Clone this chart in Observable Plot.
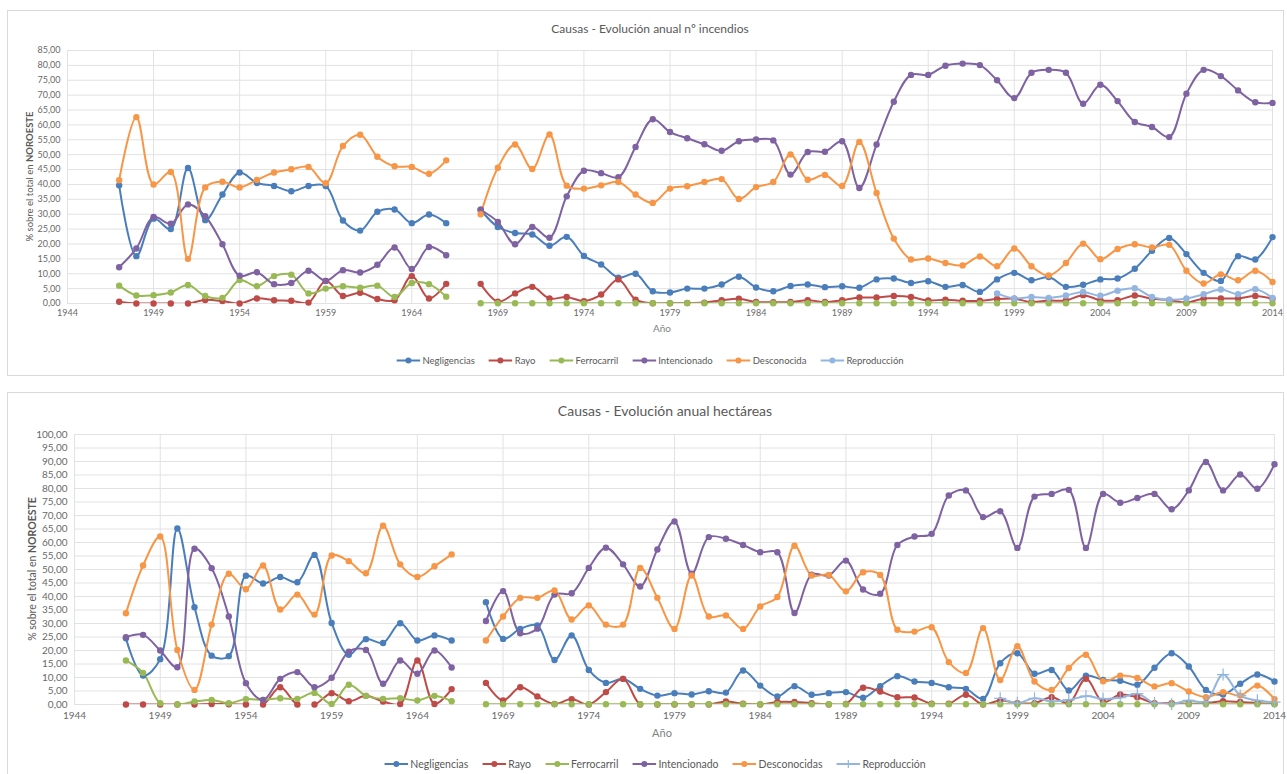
<!DOCTYPE html>
<html><head><meta charset="utf-8">
<script src="https://cdn.jsdelivr.net/npm/d3@7"></script>
<script src="https://cdn.jsdelivr.net/npm/@observablehq/plot@0.6"></script>
<style>
body{margin:0;background:#fff;font-family:Lato,"Open Sans",sans-serif;}
#page{position:relative;width:1287px;height:774px;overflow:hidden;background:#fff;}
.box{position:absolute;left:7px;width:1277px;border:1px solid #d9d9d9;box-sizing:border-box;}
.title{position:absolute;color:#595959;white-space:nowrap;transform:translate(-50%,-50%);}
.legend{position:absolute;display:flex;gap:14px;transform:translate(-50%,-50%);color:#595959;white-space:nowrap;align-items:center;}
.legend .item{display:flex;align-items:center;gap:2px;}
.chart{position:absolute;left:0;}
</style></head><body><div id="page"></div>
<script>
// ---------- DATA ----------
const yearsMain = d3.range(1947, 2015);          // 1967 missing (null)
const yearsRepro = d3.range(1998, 2015);
const namesTop = ["Negligencias","Rayo","Ferrocarril","Intencionado","Desconocida","Reproducción"];
const namesBot = ["Negligencias","Rayo","Ferrocarril","Intencionado","Desconocidas","Reproducción"];
const colors = ["#4A7EBB","#BE4B48","#98B954","#7E62A1","#F79646","#93B6E0"];
const yTicksTop = d3.range(0, 86, 5);
const yTicksBot = d3.range(0, 101, 5);
const xTicks = [1944,1949,1954,1959,1964,1969,1974,1979,1984,1989,1994,1999,2004,2009,2014];

// Top: nº incendios
const topNeg = [39.7,15.9,28.5,25,45.5,28,36.6,44,40.5,39.5,37.7,39.5,39.5,27.9,24.5,30.8,31.6,27,29.9,27,
  null,
  31.5,25.7,23.7,23.2,19.4,22.4,16,13.1,8.7,10,4.1,3.7,
  5,5,6.4,9,5.4,4.1,5.9,6.4,5.5,5.8,
  5.3,8.1,8.4,6.9,7.5,5.6,6.2,3.9,8.1,10.3,
  7.8,8.9,5.6,6.3,8.1,8.4,11.7,17.7,22,16.6,
  10.3,7.6,15.9,14.8,22.3];
const topRayo = [0.6,0,0,0,0,1.2,0.8,0,1.7,1.1,0.9,0.3,7.6,2.5,3.6,1.5,1.1,9.2,1.7,6.6,
  null,
  6.6,0.6,3.4,5.6,1.7,2.2,0.8,3,8.1,1.3,0.1,0.1,
  0.2,0.3,1.1,1.6,0.5,0.4,0.5,1.1,0.5,1.1,
  2,2,2.5,2.2,1,1.3,0.9,0.9,1.5,1.6,
  0.5,1,1,2.8,1.1,1.1,2.7,1.6,1.2,0.3,
  1.7,1.7,1.7,2.5,1.6];
const topFerro = [6,2.7,2.8,3.7,6.2,2.5,1.9,7.9,5.8,9.2,9.7,3.4,5,5.8,5.3,6,2.2,6.9,6.5,2.3,
  null,
  0.1,0.1,0.1,0.1,0.1,0.1,0.1,0.1,0.1,0.1,0.1,0.1,
  0.1,0.1,0.1,0.1,0.1,0.1,0.1,0.1,0.1,0.1,
  0.1,0.1,0.1,0.1,0.1,0.1,0.1,0.1,0.1,0.1,
  0.1,0.1,0.1,0.1,0.1,0.1,0.1,0.1,0.1,0.1,
  0.1,0.1,0.1,0.1,0.1];
const topInt = [12.2,18.5,29.1,26.8,33.3,29.3,19.9,9.3,10.5,6.5,6.9,11,7.6,11.2,10.4,13,18.8,11.6,19,16.2,
  null,
  31.5,27.4,19.9,25.7,22.1,36,44.6,43.8,42.4,52.6,61.9,57.6,
  55.5,53.5,51.3,54.5,55.1,54.8,43.3,50.9,51,54.5,
  38.8,53.4,67.8,76.8,76.8,79.9,80.6,80.1,75,69,
  77.5,78.5,77.5,67.1,73.5,68,61,59.3,55.9,70.5,
  78.5,76.4,71.6,67.6,67.4];
const topDesc = [41.4,62.6,40,44.2,15,39,40.9,39,41.5,44,45.1,45.9,40.4,52.9,56.7,49.3,46.1,45.9,43.6,48.1,
  null,
  30,45.6,53.4,45.2,56.8,39.6,38.6,39.7,40.8,36.6,33.8,38.6,
  39.4,40.8,41.8,35.1,39.1,40.8,50.1,41.6,43.2,39.5,
  54.3,37.1,21.8,14.8,15.1,13.6,12.8,15.8,12.5,18.5,
  12.5,9.4,13.6,20.1,14.9,18.3,19.9,18.8,19.7,11,
  6.7,9.8,7.8,11,7.2];
const topRepro = [3.4,1.7,2.2,1.9,2.7,3.9,2.6,4.3,5.1,2.2,1.3,1.7,3.1,4.7,3.1,4.8,1.9];

// Bottom: hectáreas
const botNeg = [24.5,10.7,16.8,65.2,36,18.1,17.9,47.7,44.8,47.2,45.3,55.4,30.2,18.4,24.2,22.8,30.1,23.7,25.6,23.7,
  null,
  37.9,24.3,28,29.3,16.5,25.6,12.8,8,9.5,5.8,3.3,4.2,
  3.7,4.9,4.4,12.6,7,3,6.8,3.6,4.2,4.6,
  2.5,6.8,10.5,8.5,8,6.4,5.8,2.1,15.3,19,
  11.4,12.8,5.2,10.7,9.1,8.8,7.3,13.6,19,14.1,
  5.4,3.7,7.7,11.1,8.5];
const botRayo = [0,0,0,0,0,0.2,0.1,0,0,6.4,0,0,4.2,1.2,3.2,1.1,0.2,16.3,0.2,5.7,
  null,
  8,1.5,6.4,3,0.2,2,0,4.6,9.5,0,0,0,
  0,0,1.1,0.3,0,0.9,0.9,0.5,0,0.2,
  6.2,4.8,2.7,2.6,0.3,0.3,3.6,0,1.5,0.5,
  0.5,2.7,0.5,9.5,0.9,3.7,2.7,0.5,0.5,0.3,
  0.5,1.2,0.9,0.5,0.3];
const botFerro = [16.3,11.7,0.5,0,1.1,1.7,0.5,2,1.7,2.3,2.1,4.3,0.2,7.3,3.2,2.1,2.3,1.5,3.2,1.2,
  null,
  0.1,0.1,0.1,0.1,0.1,0.1,0.1,0.1,0.1,0.1,0.1,0.1,
  0.1,0.1,0.1,0.1,0.1,0.1,0.1,0.1,0.1,0.1,
  0.1,0.1,0.1,0.1,0.1,0.1,0.1,0.1,0.1,0.1,
  0.1,0.1,0.1,0.1,0.1,0.1,0.1,0.1,0.1,0.1,
  0.1,0.1,0.1,0.1,0.1];
const botInt = [24.9,25.8,20,13.8,57.7,50.5,32.6,7.9,1.7,9.5,12,6.4,9.9,19.6,20.2,7.7,16.3,11.4,20,13.7,
  null,
  30.9,42,26.4,28.1,40.7,41.2,50.6,58.1,51.9,43.7,57.4,67.8,
  48.4,62,61.4,59.1,56.4,56.4,33.9,48.1,47.8,53.3,
  42.6,41,59.1,62.2,63.2,77.4,79.3,69.4,71.6,58,
  77,78,79.5,58,78,74.7,76.5,78,72.3,79.3,
  89.8,79.3,85.2,79.9,89];
const botDesc = [33.8,51.5,62.2,20.2,5.4,29.6,48.4,42.7,51.5,35.2,40.7,33.3,55.2,53.1,48.6,66.2,51.9,47.2,51.2,55.6,
  null,
  23.7,32.6,39.5,39.5,42.2,31.5,36.7,29.6,29.6,50.6,39.5,28,
  47.8,32.6,33,28,36.3,39.8,58.8,47.8,48,41.9,
  49,48,27.7,27,28.6,15.7,11.7,28.3,9.1,21.6,
  8.5,5.4,13.5,18.4,8.6,10.7,9.8,6.7,7.9,4.8,
  2.7,4.6,3.3,7,2];
const botRepro = [2.3,0.6,2.3,1.2,1.7,3.1,2.1,2.5,4,0.5,0.2,1.5,1.1,11.1,3.3,1.5,0.9];

// ---------- BUILD ----------
function rows(names, valuesList) {
  const out = [];
  names.forEach((n, k) => {
    const vals = valuesList[k];
    const yrs = vals.length === yearsRepro.length ? yearsRepro : yearsMain;
    yrs.forEach((yr, i) => out.push({year: yr, value: vals[i] == null ? NaN : vals[i], series: n}));
  });
  return out;
}
const fmt = d => d.toFixed(2).replace(".", ",");

function chart(o) {
  const data = rows(o.names, o.values);
  const pts = data.filter(d => !isNaN(d.value));
  const plusName = o.plusName;
  const svg = Plot.plot({
    width: 1287, height: o.height,
    marginTop: o.mt, marginBottom: o.mb, marginLeft: o.ml, marginRight: o.mr,
    style: {fontFamily: "Lato, 'Open Sans', sans-serif", fontSize: o.fs + "px", color: "#6a6a6a", background: "transparent"},
    x: {domain: [1944, 2014], ticks: xTicks, tickFormat: d => String(d), tickSize: 0, tickPadding: o.xpad, label: null},
    y: {domain: [0, o.yMax], ticks: o.yTicks, tickFormat: fmt, tickSize: 0, tickPadding: 7, label: null},
    color: {domain: o.names, range: colors},
    marks: [
      Plot.ruleY(o.yTicks, {stroke: "#e2e2e2", strokeWidth: 1}),
      Plot.ruleX(xTicks, {stroke: "#e2e2e2", strokeWidth: 1}),
      Plot.line(data, {x: "year", y: "value", z: "series", stroke: "series", strokeWidth: 2, curve: "catmull-rom", clip: true}),
      Plot.dot(pts.filter(d => d.series !== plusName), {x: "year", y: "value", fill: "series", r: 3.2}),
      Plot.dot(pts.filter(d => d.series === plusName), {x: "year", y: "value", stroke: "series", symbol: "plus", r: 4, strokeWidth: 1.2})
    ]
  });
  const s = d3.select(svg);
  const cy = (o.mt + (o.height - o.mb)) / 2;
  const t = s.append("text").attr("transform", `translate(${o.ylx},${cy}) rotate(-90)`)
    .attr("text-anchor", "middle").attr("dy", "0.35em").attr("fill", "#595959").attr("font-size", o.fs + 0.5);
  t.append("tspan").text("% sobre el total en ");
  t.append("tspan").attr("font-weight", "bold").text("NOROESTE");
  s.append("text").attr("x", o.axx).attr("y", o.axy).attr("text-anchor", "middle").attr("dy", "0.35em")
    .attr("fill", "#7f7f7f").attr("font-size", o.fs + 1).text("Año");
  svg.classList.add("chart");
  svg.style.top = o.top + "px";
  return svg;
}

function legend(names, plusName, cx, cy, fs) {
  const div = document.createElement("div");
  div.className = "legend";
  div.style.left = cx + "px"; div.style.top = cy + "px"; div.style.fontSize = fs + "px";
  names.forEach((n, i) => {
    const it = document.createElement("span"); it.className = "item";
    const c = colors[i];
    const mk = n === plusName
      ? `<line x1="12" y1="1" x2="12" y2="9" stroke="${c}" stroke-width="1.2"/>`
      : `<circle cx="12" cy="5" r="3" fill="${c}"/>`;
    it.innerHTML = `<svg width="24" height="10"><line x1="0" y1="5" x2="24" y2="5" stroke="${c}" stroke-width="2"/>${mk}</svg><span>${n}</span>`;
    div.appendChild(it);
  });
  return div;
}

const page = document.getElementById("page");
function box(top, h) { const b = document.createElement("div"); b.className = "box"; b.style.top = top + "px"; b.style.height = h + "px"; page.appendChild(b); }
function title(txt, x, y, fs) { const d = document.createElement("div"); d.className = "title"; d.textContent = txt; d.style.left = x + "px"; d.style.top = y + "px"; d.style.fontSize = fs + "px"; page.appendChild(d); }

box(10, 366);
box(392, 400);
title("Causas - Evolución anual nº incendios", 650, 28, 12);
title("Causas - Evolución anual hectáreas", 665, 410, 14);

page.appendChild(chart({
  names: namesTop, values: [topNeg, topRayo, topFerro, topInt, topDesc, topRepro],
  yMax: 85, yTicks: yTicksTop, height: 340, mt: 50, mb: 37, ml: 67, mr: 15, top: 0,
  fs: 9, xpad: 6, ylx: 30, axx: 662, axy: 328, plusName: null
}));
page.appendChild(chart({
  names: namesBot, values: [botNeg, botRayo, botFerro, botInt, botDesc, botRepro],
  yMax: 100, yTicks: yTicksBot, height: 347, mt: 42, mb: 35, ml: 74, mr: 13, top: 392,
  fs: 10, xpad: 7, ylx: 32, axx: 662, axy: 341, plusName: "Reproducción"
}));
page.appendChild(legend(namesTop, null, 650, 360, 9.5));
page.appendChild(legend(namesBot, "Reproducción", 655, 764, 10.5));
</script></body></html>
